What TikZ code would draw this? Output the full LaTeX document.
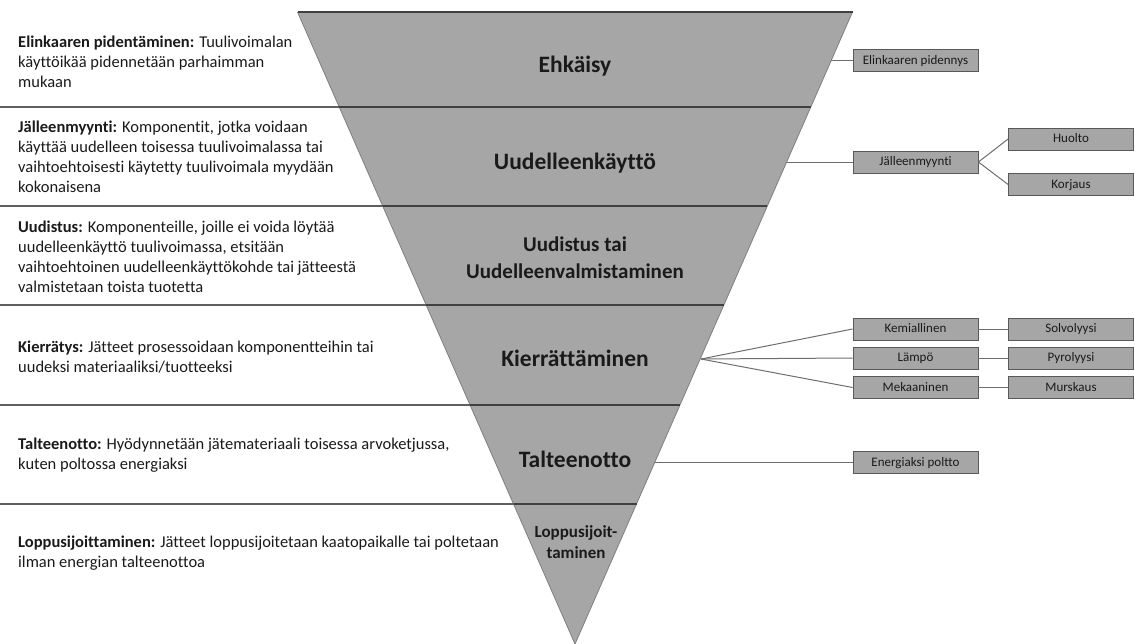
\documentclass[tikz,border=0pt]{standalone}
\usepackage{fontspec}
\setmainfont[Ligatures={NoCommon}]{Carlito}
\usetikzlibrary{calc}
\definecolor{trifill}{HTML}{A6A6A6}
\definecolor{triedge}{HTML}{7F7F7F}
\definecolor{bandline}{HTML}{404040}
\definecolor{leftline}{HTML}{5F5F5F}
\definecolor{conline}{HTML}{6E6E6E}
\definecolor{boxfill}{HTML}{A6A6A6}
\definecolor{boxedge}{HTML}{595959}
\definecolor{txt}{HTML}{1A1A1A}
\tikzset{
  desc/.style={anchor=west, align=left, inner sep=0pt, text=txt, font=\fontsize{16.5}{20}\selectfont},
  lvl/.style={align=center, inner sep=0pt, text=txt, font=\fontsize{23.5}{27}\selectfont\bfseries},
  lvlmid/.style={align=center, inner sep=0pt, text=txt, font=\fontsize{21}{27}\selectfont\bfseries},
  lvlsmall/.style={align=center, inner sep=0pt, text=txt, font=\fontsize{17}{20.5}\selectfont\bfseries},
  sbox/.style={draw=boxedge, fill=boxfill, line width=0.8pt, minimum width=125pt, minimum height=22pt, inner sep=0pt, text height=10.5pt, text depth=3pt, text=txt, font=\fontsize{13}{14}\selectfont},
  band/.style={draw=bandline, line width=1.1pt},
  lline/.style={draw=leftline, line width=1.1pt},
  conn/.style={draw=conline, line width=1pt}
}
\begin{document}
\begin{tikzpicture}[x=1pt,y=-1pt]
\useasboundingbox (0,0) rectangle (1135,643);
% triangle
\fill[trifill] (297.5,12) -- (852.5,12) -- (575,644) -- cycle;
\draw[triedge, line width=0.8pt] (297.5,12) -- (575,644) -- (852.5,12);
\draw[bandline, line width=1.3pt] (297.5,12) -- (852.5,12);
% band lines: left part and across triangle
\foreach \yy/\xl/\xr in {107/339.2/810.8, 206/382.7/767.3, 305/426.2/723.8, 405/470.1/679.9, 504/513.5/636.5}{
  \draw[lline] (0,\yy) -- (\xl,\yy);
  \draw[band] (\xl,\yy) -- (\xr,\yy);
}
% level labels
\node[lvl] (ehk) at (575,66) {Ehkäisy};
\node[lvl] (uud) at (575,163) {Uudelleenkäyttö};
\node[lvlmid] (uvm) at (575,258) {Uudistus tai\\Uudelleenvalmistaminen};
\node[lvl] (kie) at (575,358) {Kierrättäminen};
\node[lvl] (tal) at (575,459) {Talteenotto};
\node[lvlsmall] (lop) at (576,542) {Loppusijoit-\\taminen};
% left descriptions
\node[desc] (d1) at (18,62) {\textbf{Elinkaaren pidentäminen:} Tuulivoimalan\\käyttöikää pidennetään parhaimman\\mukaan};
\node[desc] (d2) at (18,157) {\textbf{Jälleenmyynti:} Komponentit, jotka voidaan\\käyttää uudelleen  toisessa tuulivoimalassa tai\\vaihtoehtoisesti käytetty tuulivoimala myydään\\kokonaisena};
\node[desc] (d3) at (18,257) {\textbf{Uudistus:} Komponenteille, joille ei voida löytää\\uudelleenkäyttö tuulivoimassa, etsitään\\vaihtoehtoinen uudelleenkäyttökohde tai jätteestä\\valmistetaan toista tuotetta};
\node[desc] (d4) at (18,357) {\textbf{Kierrätys:} Jätteet prosessoidaan komponentteihin tai\\uudeksi materiaaliksi/tuotteeksi};
\node[desc] (d5) at (18,455) {\textbf{Talteenotto:} Hyödynnetään jätemateriaali toisessa arvoketjussa,\\kuten poltossa energiaksi};
\node[desc] (d6) at (18,553) {\textbf{Loppusijoittaminen:} Jätteet loppusijoitetaan kaatopaikalle tai poltetaan\\ilman energian talteenottoa};
% right boxes
\node[sbox] (b1) at (915.5,60.5) {Elinkaaren pidennys};
\node[sbox] (b2) at (915.5,162) {Jälleenmyynti};
\node[sbox] (b2a) at (1071,139) {Huolto};
\node[sbox] (b2b) at (1071,184.5) {Korjaus};
\node[sbox] (k1) at (915.5,329) {Kemiallinen};
\node[sbox] (k2) at (915.5,358) {Lämpö};
\node[sbox] (k3) at (915.5,387.5) {Mekaaninen};
\node[sbox] (k1b) at (1071,329) {Solvolyysi};
\node[sbox] (k2b) at (1071,358) {Pyrolyysi};
\node[sbox] (k3b) at (1071,387.5) {Murskaus};
\node[sbox] (t1) at (915.5,462.5) {Energiaksi poltto};
% edge coordinates on triangle
\coordinate (e1) at (831.2,60.5);
\coordinate (e2) at (786.6,162);
\coordinate (e4) at (701,359);
\coordinate (e5) at (655,462.5);
% connectors
\draw[conn] (e1) -- (b1.west);
\draw[conn] (e2) -- (b2.west);
\draw[conn] (b2.east) -- (b2a.west);
\draw[conn] (b2.east) -- (b2b.west);
\draw[conn] (e4) -- (k1.west);
\draw[conn] (e4) -- (k2.west);
\draw[conn] (e4) -- (k3.west);
\draw[conn] (k1.east) -- (k1b.west);
\draw[conn] (k2.east) -- (k2b.west);
\draw[conn] (k3.east) -- (k3b.west);
\draw[conn] (e5) -- (t1.west);
\end{tikzpicture}
\end{document}
